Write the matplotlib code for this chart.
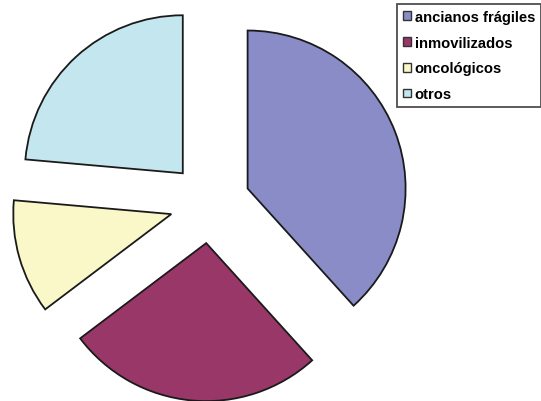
import matplotlib
matplotlib.use("Agg")
import matplotlib.pyplot as plt
from matplotlib.patches import Patch

labels = ["ancianos frágiles", "inmovilizados", "oncológicos", "otros"]
values = [38.3, 26.4, 11.7, 23.6]
colors = ["#8a8cc8", "#993768", "#faf8c8", "#c4e6ee"]
explode = [0.255, 0.255, 0.255, 0.255]

W, H = 541, 402
fig = plt.figure(figsize=(W / 100, H / 100), dpi=100)
ax = fig.add_axes([0, 0, 1, 1])

# pie centre and radius in pixels
cx, cy, r = 210, 204, 158
ax.pie(values, colors=colors, explode=explode, startangle=90,
       counterclock=False, radius=1,
       wedgeprops=dict(edgecolor="#1a1a1a", linewidth=1.3))
ax.set_xlim(-cx / r, (W - cx) / r)
ax.set_ylim(-(H - cy) / r, cy / r)
ax.axis("off")

handles = [Patch(facecolor=c, edgecolor="#333333", linewidth=1.0) for c in colors]
leg = fig.legend(handles, labels, loc="upper right",
                 bbox_to_anchor=(1.0, 1 - 5 / H),
                 frameon=True, fancybox=False, edgecolor="#222222",
                 handlelength=0.55, handleheight=0.55, handletextpad=0.25,
                 labelspacing=0.8, borderpad=0.4, borderaxespad=0,
                 prop=dict(family="Liberation Sans", weight="bold", size=10.6))
leg.get_frame().set_linewidth(1.3)

fig.savefig("out.png", dpi=100)
